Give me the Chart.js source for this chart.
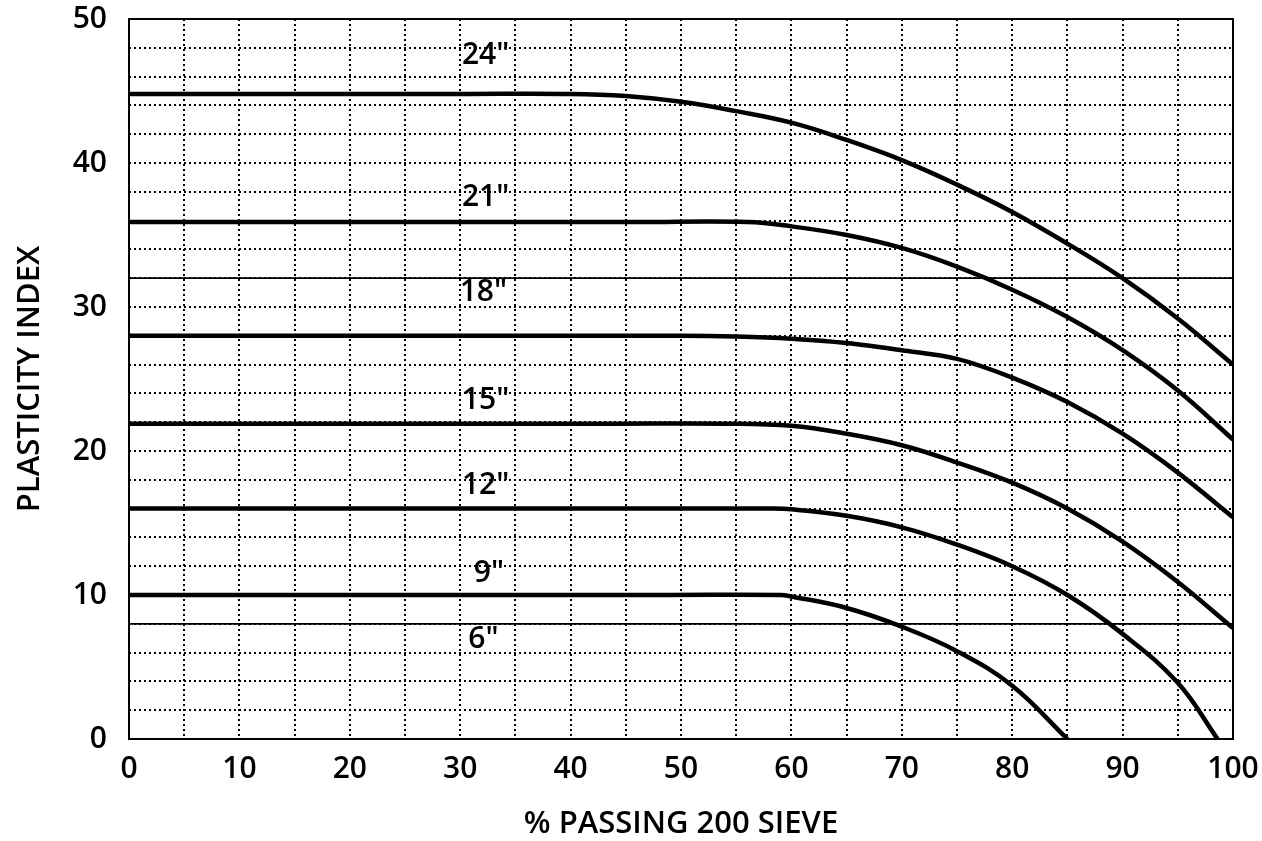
<!DOCTYPE html>
<html>
<head>
<meta charset="utf-8">
<script src="https://cdn.jsdelivr.net/npm/chart.js@4.4.1/dist/chart.umd.min.js"></script>
<style>
  html, body { margin: 0; padding: 0; background: #fff; }
  #wrap { width: 1262px; height: 841px; position: relative; }
</style>
</head>
<body>
<div id="wrap"><canvas id="piChart"></canvas></div>
<script>
// ── Data ──────────────────────────────────────────────────────────────────
const xs24 = [0, 30, 40, 45, 50, 55, 60, 65, 70, 75, 80, 85, 90, 95, 100];
const ys24 = [44.8, 44.8, 44.8, 44.65, 44.25, 43.6, 42.8, 41.6, 40.2, 38.5, 36.6, 34.4, 32.0, 29.2, 26.0];

const xs21 = [0, 46, 56, 60, 65, 70, 75, 80, 85, 90, 95, 100];
const ys21 = [35.9, 35.9, 35.9, 35.6, 35.0, 34.1, 32.8, 31.2, 29.3, 27.0, 24.2, 20.8];

const xs18 = [0, 40, 50, 55, 60, 65, 70, 75, 80, 85, 90, 95, 100];
const ys18 = [28.0, 28.0, 28.0, 27.95, 27.8, 27.5, 27.0, 26.4, 25.1, 23.4, 21.2, 18.5, 15.4];

const xs15 = [0, 44, 54, 60, 65, 70, 75, 80, 85, 90, 95, 100];
const ys15 = [21.9, 21.9, 21.9, 21.75, 21.2, 20.4, 19.2, 17.8, 16.0, 13.7, 10.9, 7.7];

const xs12 = [0, 48, 58, 60, 65, 70, 75, 80, 85, 90, 95, 98.6];
const ys12 = [16.0, 16.0, 16.0, 15.95, 15.5, 14.7, 13.5, 12.0, 10.0, 7.3, 3.9, 0];

const xs9 = [0, 49, 59, 60, 65, 70, 75, 80, 85];
const ys9 = [10.0, 10.0, 10.0, 9.9, 9.1, 7.8, 6.1, 3.7, 0];

// thin solid reference lines across the plot
const refLevels = [32, 8];

// curve labels, in data units
const labelText = ['24"', '21"', '18"', '15"', '12"', '9"', '6"'];
const labelX    = [32.3, 32.3, 32.1, 32.3, 32.3, 32.6, 32.1];
const labelY    = [47.5, 37.6, 31.0, 23.5, 17.6, 11.5, 6.9];

const X_TITLE = '% PASSING 200 SIEVE';
const Y_TITLE = 'PLASTICITY INDEX';

// ── Helpers ───────────────────────────────────────────────────────────────
const FONT = "'Open Sans', 'Noto Sans', sans-serif";
const zip = (xs, ys) => xs.map((x, i) => ({ x, y: ys[i] }));

// smooth bezier through the read points; the 18" curve keeps its knee at 75
function curve(xs, ys, mode) {
  return {
    data: zip(xs, ys),
    borderColor: '#000',
    borderWidth: 4.5,
    pointRadius: 0,
    fill: false,
    tension: 0.4,
    cubicInterpolationMode: mode || 'default',
  };
}

const datasets = [
  curve(xs24, ys24),
  curve(xs21, ys21),
  curve(xs18, ys18, 'monotone'),
  curve(xs15, ys15),
  curve(xs12, ys12),
  curve(xs9, ys9),
  ...refLevels.map(v => ({
    data: [{ x: 0, y: v }, { x: 100, y: v }],
    borderColor: '#000',
    borderWidth: 1.8,
    pointRadius: 0,
    fill: false,
  })),
];

// frame round the plot + curve labels
const framePlugin = {
  id: 'frame',
  afterDraw(chart) {
    const { ctx, chartArea: a, scales: { x, y } } = chart;
    ctx.save();
    ctx.strokeStyle = '#000';
    ctx.lineWidth = 2;
    ctx.strokeRect(a.left, a.top, a.right - a.left, a.bottom - a.top);

    ctx.fillStyle = '#000';
    ctx.font = `600 30px ${FONT}`;
    ctx.textAlign = 'center';
    ctx.textBaseline = 'middle';
    labelText.forEach((t, i) => {
      ctx.fillText(t, x.getPixelForValue(labelX[i]), y.getPixelForValue(labelY[i]));
    });
    ctx.restore();
  },
};

const dotted = { dash: [2, 3], display: false };

new Chart(document.getElementById('piChart'), {
  type: 'line',
  data: { datasets },
  plugins: [framePlugin],
  options: {
    responsive: true,
    maintainAspectRatio: false,
    animation: false,
    events: [],
    layout: { padding: 0 },
    plugins: { legend: { display: false }, tooltip: { enabled: false } },
    scales: {
      x: {
        type: 'linear',
        min: 0,
        max: 100,
        // pin the plot box: bottom at 739, right edge 29px in from the canvas
        afterFit: s => { s.height = 102; s.paddingLeft = 0; s.paddingRight = 29; },
        border: dotted,
        grid: { color: '#000', lineWidth: 2, drawTicks: false },
        ticks: {
          stepSize: 5,
          padding: 12,
          color: '#000',
          maxRotation: 0,
          autoSkip: false,
          font: { family: FONT, size: 30, weight: '600' },
          callback: v => (v % 10 === 0 ? String(v) : ''),
        },
        title: {
          display: true,
          text: X_TITLE,
          color: '#000',
          padding: { top: 0, bottom: 0 },
          font: { family: FONT, size: 31, weight: '600', lineHeight: 1.1 },
        },
      },
      y: {
        type: 'linear',
        min: 0,
        max: 50,
        afterFit: s => { s.width = 129; s.paddingTop = 19; s.paddingBottom = 0; },
        border: dotted,
        grid: { color: '#000', lineWidth: 2, drawTicks: false },
        ticks: {
          stepSize: 2,
          padding: 22,
          color: '#000',
          autoSkip: false,
          font: { family: FONT, size: 30, weight: '600' },
          callback: v => (v % 10 === 0 ? String(v) : ''),
        },
        title: {
          display: true,
          text: Y_TITLE,
          color: '#000',
          padding: { top: 12, bottom: 0 },
          font: { family: FONT, size: 31, weight: '600', lineHeight: 1.2 },
        },
      },
    },
  },
});
</script>
</body>
</html>
